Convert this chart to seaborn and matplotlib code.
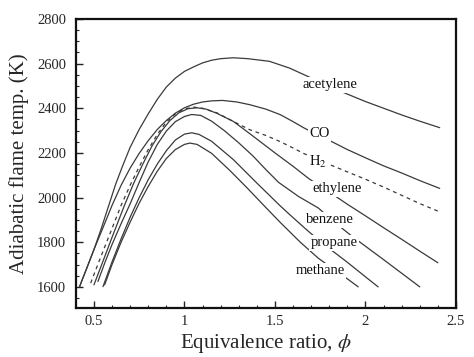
import pandas as pd
import matplotlib.pyplot as plt
import seaborn as sns

# equivalence ratio / adiabatic flame temperature (K)
acetylene_phi = [0.42, 0.46, 0.50, 0.54, 0.58, 0.62, 0.66, 0.70, 0.75, 0.80, 0.85, 0.90, 0.95,
                 1.00, 1.05, 1.10, 1.15, 1.20, 1.27, 1.35, 1.47, 1.58, 1.68, 1.80, 1.88, 2.00,
                 2.10, 2.20, 2.30, 2.41]
acetylene_T = [1600, 1683, 1767, 1860, 1960, 2060, 2145, 2225, 2305, 2375, 2440, 2495, 2535,
               2565, 2585, 2603, 2615, 2622, 2626, 2622, 2610, 2580, 2543, 2500, 2470, 2430,
               2400, 2370, 2342, 2313]

co_phi = [0.42, 0.46, 0.50, 0.55, 0.60, 0.65, 0.70, 0.75, 0.80, 0.85, 0.90, 0.95, 1.00, 1.05,
          1.10, 1.15, 1.21, 1.29, 1.36, 1.45, 1.53, 1.60, 1.66, 1.72, 1.81, 1.90, 2.00, 2.10,
          2.20, 2.30, 2.41]
co_T = [1600, 1683, 1767, 1865, 1965, 2055, 2132, 2198, 2255, 2305, 2345, 2378, 2402, 2418,
        2428, 2433, 2435, 2428, 2416, 2396, 2371, 2340, 2312, 2287, 2252, 2215, 2178, 2142,
        2110, 2076, 2041]

h2_phi = [0.482, 0.52, 0.56, 0.60, 0.65, 0.70, 0.75, 0.80, 0.85, 0.90, 0.95, 1.00, 1.05, 1.10,
          1.18, 1.27, 1.36, 1.45, 1.53, 1.60, 1.66, 1.78, 1.90, 2.00, 2.10, 2.20, 2.30, 2.41]
h2_T = [1617, 1697, 1780, 1862, 1965, 2055, 2138, 2215, 2283, 2338, 2375, 2397, 2405, 2400,
        2379, 2341, 2304, 2278, 2250, 2222, 2197, 2155, 2115, 2082, 2047, 2010, 1973, 1936]

ethylene_phi = [0.50, 0.55, 0.60, 0.67, 0.72, 0.77, 0.82, 0.87, 0.92, 0.97, 1.02, 1.07, 1.12,
                1.18, 1.27, 1.33, 1.40, 1.50, 1.60, 1.69, 1.80, 1.90, 2.00, 2.10, 2.20, 2.30, 2.40]
ethylene_T = [1609, 1715, 1822, 1968, 2065, 2150, 2230, 2295, 2345, 2380, 2398, 2402, 2396,
              2377, 2341, 2305, 2262, 2200, 2140, 2083, 2025, 1970, 1918, 1865, 1813, 1760, 1708]

benzene_phi = [0.522, 0.56, 0.60, 0.65, 0.70, 0.75, 0.80, 0.85, 0.90, 0.95, 1.00, 1.04, 1.09,
               1.15, 1.22, 1.30, 1.38, 1.45, 1.52, 1.63, 1.74, 1.80, 1.86, 1.93, 2.00, 2.10,
               2.20, 2.30]
benzene_T = [1624, 1708, 1790, 1883, 1972, 2068, 2160, 2238, 2298, 2340, 2363, 2372, 2368,
             2342, 2300, 2245, 2185, 2125, 2068, 2005, 1953, 1910, 1869, 1824, 1782, 1722,
             1661, 1600]

propane_phi = [0.55, 0.60, 0.65, 0.70, 0.75, 0.80, 0.85, 0.90, 0.95, 1.00, 1.04, 1.08, 1.15,
               1.27, 1.40, 1.53, 1.60, 1.69, 1.80, 1.90, 2.00, 2.07]
propane_T = [1601, 1712, 1815, 1912, 2000, 2080, 2150, 2210, 2258, 2284, 2290, 2283, 2252,
             2170, 2065, 1962, 1910, 1845, 1772, 1710, 1645, 1600]

methane_phi = [0.559, 0.60, 0.65, 0.70, 0.75, 0.80, 0.85, 0.90, 0.95, 1.00, 1.03, 1.07, 1.15,
               1.25, 1.35, 1.45, 1.53, 1.64, 1.74, 1.85, 1.90, 1.96]
methane_T = [1609, 1700, 1800, 1890, 1975, 2050, 2118, 2175, 2215, 2238, 2244, 2238, 2198,
             2122, 2040, 1955, 1888, 1800, 1728, 1664, 1636, 1600]

curves = {
    'acetylene': (acetylene_phi, acetylene_T),
    'CO': (co_phi, co_T),
    'H2': (h2_phi, h2_T),
    'ethylene': (ethylene_phi, ethylene_T),
    'benzene': (benzene_phi, benzene_T),
    'propane': (propane_phi, propane_T),
    'methane': (methane_phi, methane_T),
}

# label text and where it sits on its curve
labels = {
    'acetylene': ('acetylene', 1.804, 2506),
    'CO': ('CO', 1.746, 2286),
    'H2': ('H$_2$', 1.738, 2158),
    'ethylene': ('ethylene', 1.845, 2039),
    'benzene': ('benzene', 1.804, 1900),
    'propane': ('propane', 1.826, 1797),
    'methane': ('methane', 1.751, 1672),
}


def generate_plot():
    sns.set_theme(style='ticks')
    plt.rcParams['font.family'] = ['Liberation Serif', 'DejaVu Serif']
    plt.rcParams['mathtext.fontset'] = 'stix'

    fig = plt.figure(figsize=(4.74, 3.57), dpi=100)
    ax = fig.add_axes([0.160, 0.137, 0.802, 0.810])

    for name, (phi, T) in curves.items():
        df = pd.DataFrame({'phi': phi, 'T': T})
        line_kw = dict(color='#3a3a3a', linewidth=0.9)
        if name == 'H2':
            line_kw['dashes'] = (3, 3)
        sns.lineplot(data=df, x='phi', y='T', ax=ax, sort=False, estimator=None, **line_kw)

    for name, (txt, x, y) in labels.items():
        ax.text(x, y, txt, fontsize=10.5, ha='center', va='center', color='#111111',
                bbox=dict(facecolor='white', edgecolor='none', pad=1.0))

    ax.set_xlim(0.4, 2.5)
    ax.set_ylim(1505, 2800)
    ax.set_xticks([0.5, 1, 1.5, 2, 2.5])
    ax.set_xticklabels(['0.5', '1', '1.5', '2', '2.5'])
    ax.set_yticks([1600, 1800, 2000, 2200, 2400, 2600, 2800])
    ax.xaxis.set_minor_locator(plt.MultipleLocator(0.1))
    ax.yaxis.set_minor_locator(plt.MultipleLocator(50))
    ax.tick_params(which='both', direction='in', color='#222222', top=False, right=False)
    ax.tick_params(which='major', length=5, width=1.0, labelsize=10.5, pad=5)
    ax.tick_params(which='minor', length=2.5, width=0.8)
    ax.tick_params(axis='y', which='major', pad=7)

    for sp in ax.spines.values():
        sp.set_linewidth(1.6)
        sp.set_color('#111111')

    ax.set_xlabel('Equivalence ratio, $\\phi$', fontsize=15, labelpad=3)
    ax.set_ylabel('Adiabatic flame temp. (K)', fontsize=15, labelpad=6)

    fig.savefig('out.png', dpi=100)


def main():
    generate_plot()


if __name__ == '__main__':
    main()
